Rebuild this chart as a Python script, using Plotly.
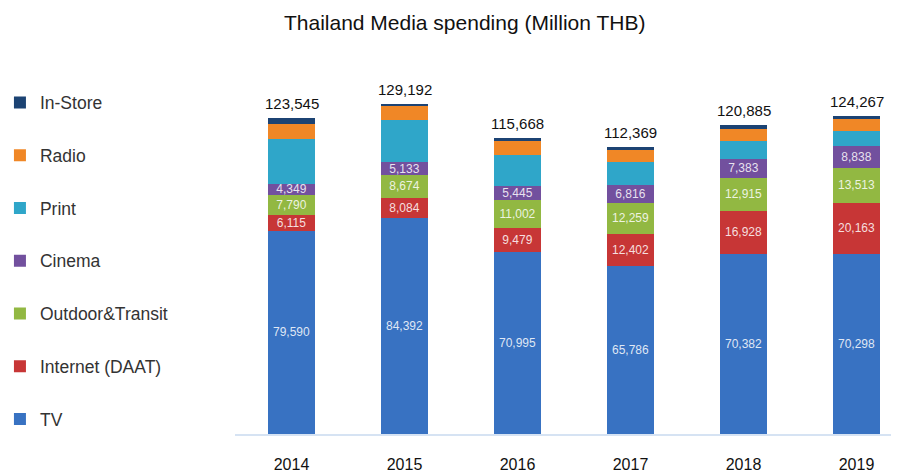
import plotly.graph_objects as go

years = ["2014", "2015", "2016", "2017", "2018", "2019"]
tv = [79590, 84392, 70995, 65786, 70382, 70298]
internet = [6115, 8084, 9479, 12402, 16928, 20163]
outdoor = [7790, 8674, 11002, 12259, 12915, 13513]
cinema = [4349, 5133, 5445, 6816, 7383, 8838]
# Print / Radio / In-Store are unlabelled in the reference
print_ = [17600, 16400, 12200, 9200, 7000, 5850]
radio = [5800, 5700, 5400, 4600, 4600, 4350]
instore = [2301, 809, 1147, 1306, 1677, 1255]
totals = [123545, 129192, 115668, 112369, 120885, 124267]

series = [
    ("TV", tv, "#3872c2", True),
    ("Internet (DAAT)", internet, "#c73636", True),
    ("Outdoor&Transit", outdoor, "#92b842", True),
    ("Cinema", cinema, "#72509e", True),
    ("Print", print_, "#2fa6c9", False),
    ("Radio", radio, "#f08726", False),
    ("In-Store", instore, "#1c4373", False),
]

FONT = "Liberation Sans"
fig = go.Figure()
n = len(series)
for i, (name, vals, color, labelled) in enumerate(series):
    fig.add_trace(go.Bar(
        x=years, y=vals, name=name, legendgroup=name, legendrank=n - i,
        marker=dict(color=color, line=dict(width=0)),
        width=0.41,
        text=[f"{v:,}" for v in vals] if labelled else None,
        textposition="inside" if labelled else "none",
        insidetextanchor="middle",
        constraintext="none",
        textfont=dict(color="rgba(255,255,255,0.85)", size=12, family=FONT),
        textangle=0,
        hoverinfo="x+y+name",
    ))

for i, tot in enumerate(totals):
    fig.add_annotation(x=i, y=tot, xref="x", yref="y", text=f"{tot:,}", showarrow=False,
                       yanchor="bottom", yshift=4,
                       font=dict(size=15, color="#111111", family=FONT))

fig.update_layout(
    width=899, height=472,
    barmode="stack",
    margin=dict(l=227, r=8, t=32, b=46, autoexpand=False),
    paper_bgcolor="white", plot_bgcolor="white",
    title=dict(text="Thailand Media spending (Million THB)", x=0.508, xanchor="center",
               y=0.970, yanchor="middle",
               font=dict(size=21, color="#111111", family=FONT)),
    font=dict(family=FONT, color="#222222"),
    uniformtext=dict(mode=False),
    legend=dict(traceorder="grouped", x=-0.354, xanchor="left", y=0.887, yanchor="top",
                tracegroupgap=27, font=dict(size=17.5, color="#333333", family=FONT),
                itemwidth=30, bgcolor="rgba(0,0,0,0)"),
    xaxis=dict(type="category", range=[-0.5, 5.376], showgrid=False, showline=True,
               linecolor="#d6e3f3", linewidth=2, ticks="",
               tickfont=dict(size=16, color="#111111", family=FONT),
               ticklabelstandoff=15),
    yaxis=dict(range=[0, 154100], showgrid=False, zeroline=False, showline=False,
               showticklabels=False, ticks=""),
    showlegend=True,
)

fig.write_html("out.html")
